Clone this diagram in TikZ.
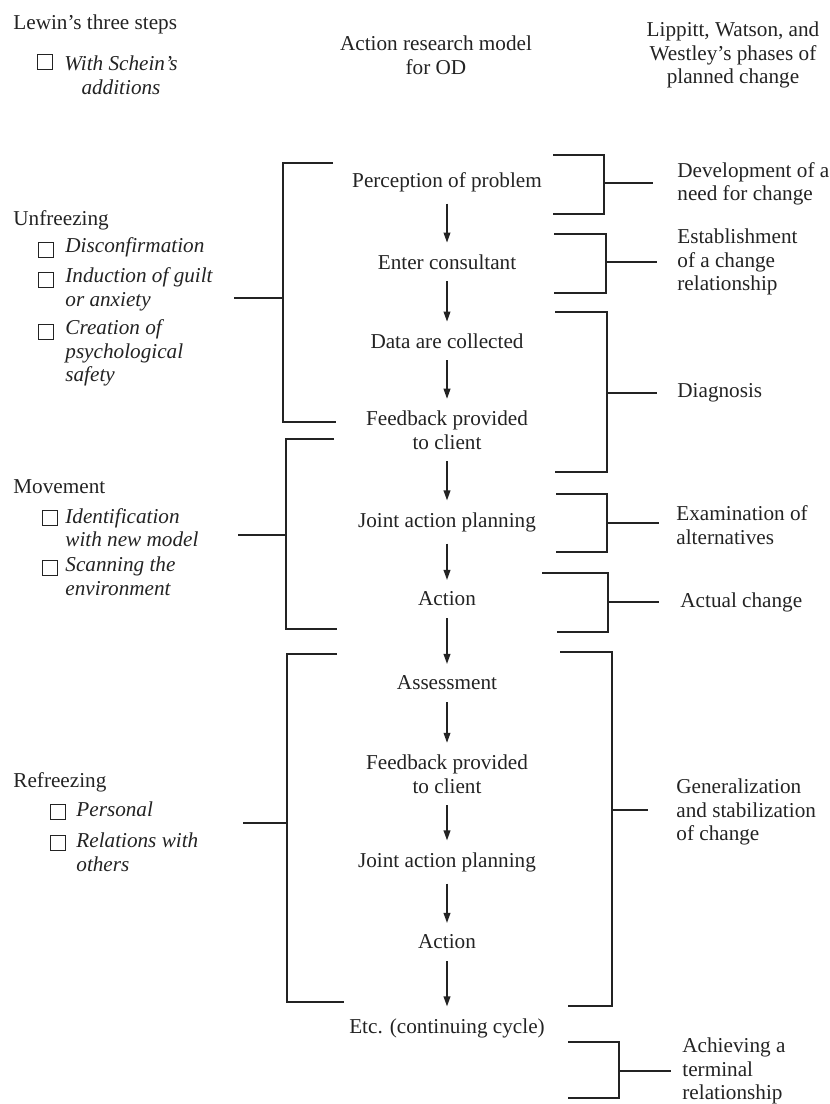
\documentclass[tikz,border=0pt]{standalone}
\usepackage{fontspec}
\setmainfont{Liberation Serif}
\usetikzlibrary{arrows.meta}
\definecolor{ink}{RGB}{35,35,35}

\begin{document}
\begin{tikzpicture}[
  x=0.5pt, y=-0.5pt,
  txt/.style={inner sep=0pt, font=\fontsize{10.6}{11.8}\selectfont, text=ink},
  head/.style={txt, align=center},
  stepnode/.style={txt, align=center, outer sep=6pt},
  lbl/.style={txt, anchor=west, align=left},
  itm/.style={txt, anchor=west, align=left, font=\fontsize{10.6}{11.8}\selectfont\itshape},
  chk/.style={draw=ink, line width=0.5pt, minimum size=7.5pt, inner sep=0pt},
  brk/.style={ink, line width=0.65pt},
  arr/.style={-{Triangle[length=5pt,width=3.4pt]}, line width=0.65pt, ink}
]
\useasboundingbox (0,0) rectangle (830,1104);

\node[txt, anchor=west] (lewin) at (13,24) {Lewin's three steps};
\node[chk] (lewinbox) at (44.5,61.5) {};
\node[itm, align=center, anchor=center] (schein) at (121,75.5) {With Schein's\\additions};
\node[head] (arm) at (436,55) {Action research model\\for OD};
\node[head] (lww) at (733,55) {Lippitt, Watson, and\\Westley's phases of\\planned change};

\node[stepnode] (perc)   at (447,182)  {Perception of problem};
\node[stepnode] (enter)  at (447,262)  {Enter consultant};
\node[stepnode] (data)   at (447,341)  {Data are collected};
\node[stepnode] (fb1)    at (447,430)  {Feedback provided\\to client};
\node[stepnode] (plan1)  at (447,522)  {Joint action planning};
\node[stepnode] (act1)   at (447,599)  {Action};
\node[stepnode] (assess) at (447,683)  {Assessment};
\node[stepnode] (fb2)    at (447,774)  {Feedback provided\\to client};
\node[stepnode] (plan2)  at (447,862)  {Joint action planning};
\node[stepnode] (act2)   at (447,942)  {Action};
\node[stepnode] (etc)    at (447,1028) {Etc. (continuing cycle)};
\draw[arr] (perc)   -- (enter);
\draw[arr] (enter)  -- (data);
\draw[arr] (data)   -- (fb1);
\draw[arr] (fb1)    -- (plan1);
\draw[arr] (plan1)  -- (act1);
\draw[arr] (act1)   -- (assess);
\draw[arr] (assess) -- (fb2);
\draw[arr] (fb2)    -- (plan2);
\draw[arr] (plan2)  -- (act2);
\draw[arr] (act2)   -- (etc);

\node[lbl] (unfr) at (13,220) {Unfreezing};
\node[chk] (c1) at (46,249.5) {};
\node[itm] (i1) at (65,247) {Disconfirmation};
\node[chk] (c2) at (46,279.5) {};
\node[itm] (i2) at (65,289.5) {Induction of guilt\\or anxiety};
\node[chk] (c3) at (46,331.5) {};
\node[itm] (i3) at (65,353) {Creation of\\psychological\\safety};

\node[lbl] (move) at (13,487) {Movement};
\node[chk] (c4) at (50,517.5) {};
\node[itm] (i4) at (65,527.5) {Identification\\with new model};
\node[chk] (c5) at (50,567.5) {};
\node[itm] (i5) at (65,576.5) {Scanning the\\environment};

\node[lbl] (refr) at (13,782) {Refreezing};
\node[chk] (c6) at (57.5,811.5) {};
\node[itm] (i6) at (76,809) {Personal};
\node[chk] (c7) at (57.5,842.5) {};
\node[itm] (i7) at (76,852.5) {Relations with\\others};

\node[lbl] (need) at (677,184)  {Development of a\\need for change};
\node[lbl] (rel)  at (677,262)  {Establishment\\of a change\\relationship};
\node[lbl] (diag) at (677,393)  {Diagnosis};
\node[lbl] (alt)  at (676,525)  {Examination of\\alternatives};
\node[lbl] (chg)  at (680,602)  {Actual change};
\node[lbl] (gen)  at (676,812)  {Generalization\\and stabilization\\of change};
\node[lbl] (term) at (682,1071) {Achieving a\\terminal\\relationship};

\draw[brk] (333,163) -| (283,422) -- (336,422);
\draw[brk] (283,298) -- (234,298);
\draw[brk] (334,439) -| (286,629) -- (337,629);
\draw[brk] (286,535) -- (238,535);
\draw[brk] (337,654) -| (287,1002) -- (344,1002);
\draw[brk] (287,823) -- (243,823);

\draw[brk] (553,155) -| (604,214) -- (553,214);
\draw[brk] (604,183) -- (653,183);
\draw[brk] (554,234) -| (606,293) -- (554,293);
\draw[brk] (606,262) -- (657,262);
\draw[brk] (555,312) -| (607,472) -- (555,472);
\draw[brk] (607,393) -- (657,393);
\draw[brk] (556,494) -| (607,552) -- (556,552);
\draw[brk] (607,523) -- (659,523);
\draw[brk] (542,573) -| (608,632) -- (557,632);
\draw[brk] (608,602) -- (659,602);
\draw[brk] (560,652) -| (612,1006) -- (568,1006);
\draw[brk] (612,810) -- (648,810);
\draw[brk] (568,1042) -| (619,1098) -- (568,1098);
\draw[brk] (619,1071) -- (671,1071);
\end{tikzpicture}
\end{document}
